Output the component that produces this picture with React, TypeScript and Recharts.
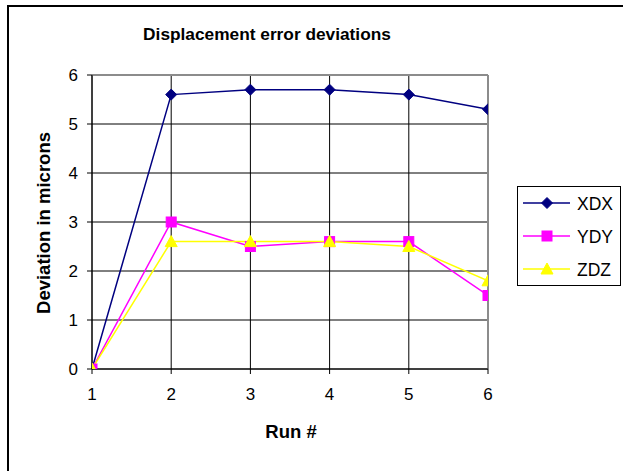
import React from "react";
import {
  LineChart,
  Line,
  XAxis,
  YAxis,
  CartesianGrid,
  ReferenceLine,
} from "recharts";

const runs = [1, 2, 3, 4, 5, 6];
const xdx = [0, 5.6, 5.7, 5.7, 5.6, 5.3];
const ydy = [0, 3.0, 2.5, 2.6, 2.6, 1.5];
const zdz = [0, 2.6, 2.6, 2.6, 2.5, 1.8];
const yTicks = [0, 1, 2, 3, 4, 5, 6];
const seriesNames = ["XDX", "YDY", "ZDZ"];

const data = runs.map((r, i) => ({ run: r, XDX: xdx[i], YDY: ydy[i], ZDZ: zdz[i] }));

const FONT = "'Liberation Sans', Arial, sans-serif";

const COLORS: Record<string, string> = {
  XDX: "#000080",
  YDY: "#FF00FF",
  ZDZ: "#FFFF00",
};

function Marker({ kind, cx, cy, color }: { kind: string; cx: number; cy: number; color: string }) {
  if (cx == null || cy == null) return null;
  if (kind === "XDX") {
    const s = 5.5;
    return (
      <path
        d={`M${cx},${cy - s} L${cx + s},${cy} L${cx},${cy + s} L${cx - s},${cy} Z`}
        fill={color}
        stroke={color}
      />
    );
  }
  if (kind === "YDY") {
    const s = 5;
    return <rect x={cx - s} y={cy - s} width={2 * s} height={2 * s} fill={color} stroke={color} />;
  }
  const s = 6;
  return (
    <path
      d={`M${cx},${cy - s} L${cx + s},${cy + s - 1} L${cx - s},${cy + s - 1} Z`}
      fill={color}
      stroke={color}
    />
  );
}

const makeDot = (kind: string) => (props: any) => (
  <Marker key={`${kind}-${props.index}`} kind={kind} cx={props.cx} cy={props.cy} color={COLORS[kind]} />
);

function LegendBox() {
  return (
    <div
      style={{
        position: "absolute",
        left: 517,
        top: 186,
        width: 104,
        height: 100,
        border: "1px solid #000",
        background: "#fff",
        boxSizing: "border-box",
      }}
    >
      <svg width={104} height={100} style={{ position: "absolute", left: -1, top: -1 }}>
        {seriesNames.map((k, i) => {
          const y = 17 + i * 33;
          return (
            <g key={k}>
              <line x1={6} x2={53} y1={y} y2={y} stroke={COLORS[k]} strokeWidth={1.5} />
              <Marker kind={k} cx={30} cy={y} color={COLORS[k]} />
              <text x={60} y={y + 6.5} fontFamily={FONT} fontSize={17.5} fill="#000">
                {k}
              </text>
            </g>
          );
        })}
      </svg>
    </div>
  );
}

export default function App() {
  return (
    <div
      style={{
        position: "fixed",
        left: 0,
        top: 0,
        width: 623,
        height: 471,
        overflow: "hidden",
        background: "#fff",
        fontFamily: FONT,
      }}
    >
      <div
        style={{
          position: "absolute",
          left: 7,
          top: 5,
          width: 640,
          height: 490,
          border: "2px solid #000",
          boxSizing: "border-box",
        }}
      />
      <div
        style={{
          position: "absolute",
          left: 0,
          width: 534,
          top: 24,
          textAlign: "center",
          fontWeight: "bold",
          fontSize: 17.3,
          color: "#000",
        }}
      >
        Displacement error deviations
      </div>
      <div
        style={{
          position: "absolute",
          left: 44,
          top: 223,
          transform: "translate(-50%, -50%) rotate(-90deg)",
          whiteSpace: "nowrap",
          fontWeight: "bold",
          fontSize: 18.5,
        }}
      >
        Deviation in microns
      </div>
      <div
        style={{
          position: "absolute",
          left: 291,
          top: 432,
          transform: "translate(-50%, -50%)",
          whiteSpace: "nowrap",
          fontWeight: "bold",
          fontSize: 18.5,
        }}
      >
        Run #
      </div>
      <div style={{ position: "absolute", left: 0, top: 0 }}>
        <LineChart
          width={623}
          height={471}
          data={data}
          margin={{ top: 75, right: 135, bottom: 72, left: 52 }}
        >
          <CartesianGrid stroke="#000" strokeWidth={1} />
          <XAxis
            dataKey="run"
            type="number"
            domain={[1, 6]}
            ticks={runs}
            height={30}
            tickSize={5}
            tickMargin={14}
            tickLine={{ stroke: "#000" }}
            axisLine={{ stroke: "#000" }}
            tick={{ fill: "#000", fontSize: 17, fontFamily: FONT }}
            allowDataOverflow
          />
          <YAxis
            type="number"
            domain={[0, 6]}
            ticks={yTicks}
            width={40}
            tickSize={5}
            tickMargin={9}
            tickLine={{ stroke: "#000" }}
            axisLine={{ stroke: "#000" }}
            tick={{ fill: "#000", fontSize: 17, fontFamily: FONT }}
            allowDataOverflow
          />
          <ReferenceLine y={6} stroke="#8c8c8c" strokeWidth={2} />
          <ReferenceLine x={6} stroke="#8c8c8c" strokeWidth={2} />
          <Line
            type="linear"
            dataKey="XDX"
            stroke={COLORS.XDX}
            strokeWidth={1.5}
            dot={makeDot("XDX")}
            isAnimationActive={false}
          />
          <Line
            type="linear"
            dataKey="YDY"
            stroke={COLORS.YDY}
            strokeWidth={1.5}
            dot={makeDot("YDY")}
            isAnimationActive={false}
          />
          <Line
            type="linear"
            dataKey="ZDZ"
            stroke={COLORS.ZDZ}
            strokeWidth={1.5}
            dot={makeDot("ZDZ")}
            isAnimationActive={false}
          />
        </LineChart>
      </div>
      <LegendBox />
    </div>
  );
}
